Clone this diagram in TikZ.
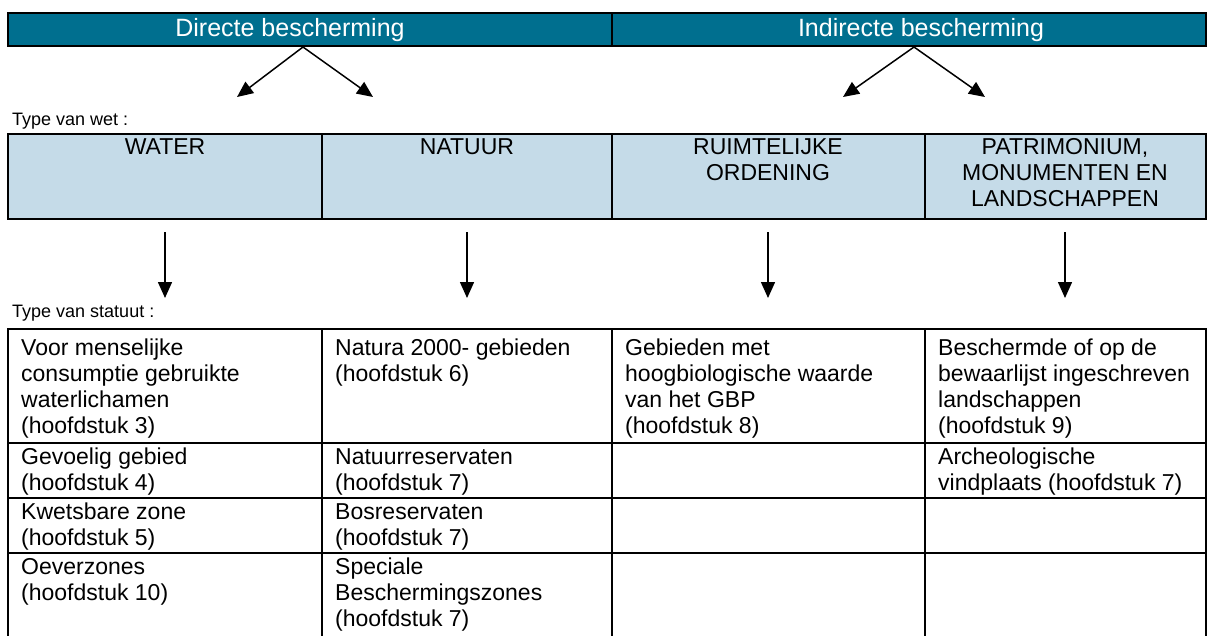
\documentclass[tikz,border=0pt]{standalone}
\usepackage{fontspec}
\setmainfont{Liberation Sans}
\usetikzlibrary{arrows.meta}
\definecolor{kopblauw}{RGB}{0,111,143}
\definecolor{wetblauw}{RGB}{197,219,232}
\tikzset{
	rand/.style={line width=1.6pt},
	pijl/.style={line width=1.5pt, -{Triangle[length=16pt,width=14pt]}},
	kop/.style={text=white, inner sep=0pt, font=\fontsize{25}{29}\selectfont},
	wet/.style={anchor=north, align=center, inner sep=0pt, font=\fontsize{23}{26}\selectfont},
	cel/.style={anchor=north west, align=left, inner sep=0pt, font=\fontsize{23}{26}\selectfont},
	typelabel/.style={anchor=west, inner sep=0pt, font=\fontsize{18}{21}\selectfont}
}

\begin{document}
\begin{tikzpicture}[x=1pt,y=-1pt]
	\useasboundingbox (0,0) rectangle (1213,635);
	\clip (0,0) rectangle (1213,635);
	% kopbalk
	\filldraw[fill=kopblauw, rand] (8,13) rectangle (1206,46);
	\draw[rand] (612,13) -- (612,46);
	\node[kop] (direct) at (290,30) {Directe bescherming};
	\node[kop] (indirect) at (921,30) {Indirecte bescherming};
	
	\coordinate (d0) at (303,47);
	\coordinate (d1) at (237,97);
	\coordinate (d2) at (373,97);
	\coordinate (i0) at (914,47);
	\coordinate (i1) at (843,97);
	\coordinate (i2) at (985,97);
	\draw[pijl] (d0) -- (d1);
	\draw[pijl] (d0) -- (d2);
	\draw[pijl] (i0) -- (i1);
	\draw[pijl] (i0) -- (i2);
	
	% type van wet
	\node[typelabel] (wetlabel) at (12,121) {Type van wet :};
	\filldraw[fill=wetblauw, rand] (8,134) rectangle (1206,219);
	\foreach \x in {322,612,925}
		\draw[rand] (\x,134) -- (\x,219);
	\node[wet] (water) at (165,138.5) {WATER};
	\node[wet] (natuur) at (467,138.5) {NATUUR};
	\node[wet] (ruimte) at (768,138.5) {RUIMTELIJKE\\ORDENING};
	\node[wet] (patrimonium) at (1065,138.5) {PATRIMONIUM,\\MONUMENTEN EN\\LANDSCHAPPEN};
	
	\foreach \x [count=\i] in {165,467,768,1065} {
		\coordinate (p\i) at (\x,232);
		\coordinate (q\i) at (\x,298);
		\draw[pijl] (p\i) -- (q\i);
	}
	
	% type van statuut
	\node[typelabel] (statuutlabel) at (12,313) {Type van statuut :};
	\draw[rand] (8,329) rectangle (1206,645);
	\foreach \y in {443,498,553}
		\draw[rand] (8,\y) -- (1206,\y);
	\foreach \x in {322,612,925}
		\draw[rand] (\x,329) -- (\x,645);
	
	\node[cel] (w1) at (21,339) {Voor menselijke\\consumptie gebruikte\\waterlichamen\\(hoofdstuk 3)};
	\node[cel] (w2) at (21,448) {Gevoelig gebied\\(hoofdstuk 4)};
	\node[cel] (w3) at (21,503) {Kwetsbare zone\\(hoofdstuk 5)};
	\node[cel] (w4) at (21,558) {Oeverzones\\(hoofdstuk 10)};
	\node[cel] (n1) at (335,339) {Natura 2000- gebieden\\(hoofdstuk 6)};
	\node[cel] (n2) at (335,448) {Natuurreservaten\\(hoofdstuk 7)};
	\node[cel] (n3) at (335,503) {Bosreservaten\\(hoofdstuk 7)};
	\node[cel] (n4) at (335,558) {Speciale\\Beschermingszones\\(hoofdstuk 7)};
	\node[cel] (r1) at (625,339) {Gebieden met\\hoogbiologische waarde\\van het GBP\\(hoofdstuk 8)};
	\node[cel] (m1) at (938,339) {Beschermde of op de\\bewaarlijst ingeschreven\\landschappen\\(hoofdstuk 9)};
	\node[cel] (m2) at (938,448) {Archeologische\\vindplaats (hoofdstuk 7)};
\end{tikzpicture}
\end{document}
